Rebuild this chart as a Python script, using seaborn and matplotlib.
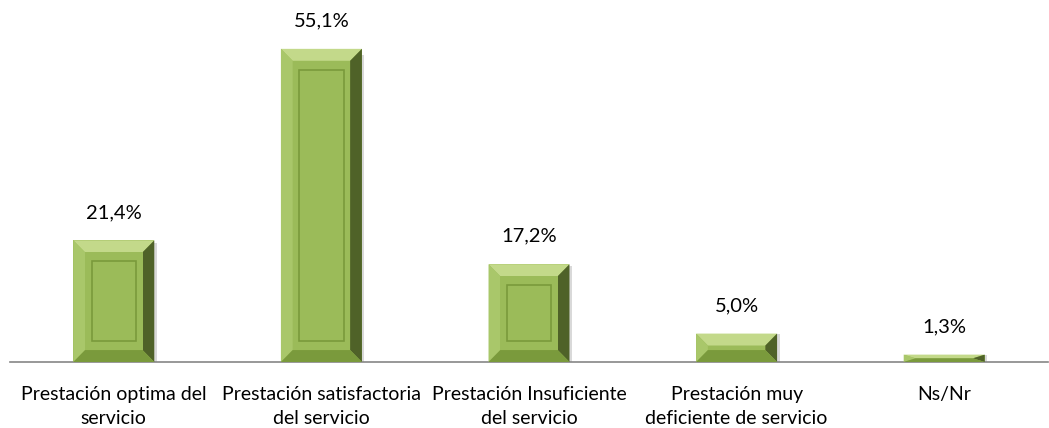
import numpy as np
import pandas as pd
import matplotlib
matplotlib.use("Agg")
import matplotlib.pyplot as plt
from matplotlib.patches import Polygon, Rectangle
import seaborn as sns

categorias = ["Prestación optima del\nservicio",
              "Prestación satisfactoria\ndel servicio",
              "Prestación Insuficiente\ndel servicio",
              "Prestación muy\ndeficiente de servicio",
              "Ns/Nr"]
valores = [21.4, 55.1, 17.2, 5.0, 1.3]
etiquetas = ["21,4%", "55,1%", "17,2%", "5,0%", "1,3%"]

sns.set_style("white")
plt.rcParams['font.family'] = ['Lato', 'DejaVu Sans']

df = pd.DataFrame({"cat": categorias, "val": valores})

fig = plt.figure(figsize=(10.49, 4.28), dpi=100)
ax = fig.add_axes([10 / 1049, 66 / 428, 1038 / 1049, 341 / 428])
sns.barplot(data=df, x="cat", y="val", color="#9bbb59", width=0.39,
            saturation=1, ax=ax, linewidth=0)
ax.set_ylim(0, 60)
ax.set_xlim(-0.5, len(categorias) - 0.5)


def bevel(ax, p):
    x0, w, h = p.get_x(), p.get_width(), p.get_height()
    x1 = x0 + w
    # bevel size in data units (about 12 px)
    bx = w * 0.145
    by = min(2.1, h / 2)
    bx = min(bx, w / 2)
    ix0, ix1, iy0, iy1 = x0 + bx, x1 - bx, by, h - by
    z = 3
    ax.add_patch(Polygon([(x0, h), (x1, h), (ix1, iy1), (ix0, iy1)],
                         closed=True, fc="#c3d98a", ec="none", zorder=z))
    ax.add_patch(Polygon([(x0, 0), (x0, h), (ix0, iy1), (ix0, iy0)],
                         closed=True, fc="#a9c76a", ec="none", zorder=z))
    ax.add_patch(Polygon([(x1, 0), (x1, h), (ix1, iy1), (ix1, iy0)],
                         closed=True, fc="#4f6228", ec="none", zorder=z))
    ax.add_patch(Polygon([(x0, 0), (x1, 0), (ix1, iy0), (ix0, iy0)],
                         closed=True, fc="#7a9a3c", ec="none", zorder=z))
    ax.add_patch(Rectangle((ix0, iy0), ix1 - ix0, max(iy1 - iy0, 0),
                           fc="#9bbb59", ec="none", zorder=z))
    # inner panel line
    if h > 10:
        px, py = w * 0.08, 1.6
        ax.add_patch(Rectangle((ix0 + px, iy0 + py), ix1 - ix0 - 2 * px,
                               iy1 - iy0 - 2 * py, fc="none",
                               ec="#7a9a3c", lw=1.2, zorder=z + 1))
    # shadow
    ax.add_patch(Rectangle((x1, 0), w * 0.03, h * 0.98, fc="#000000",
                           alpha=0.15, ec="none", zorder=z - 1))


for p, lab in zip(ax.patches[:len(valores)], etiquetas):
    bevel(ax, p)
    ax.annotate(lab, (p.get_x() + p.get_width() / 2, p.get_height()),
                xytext=(0, 14), textcoords="offset points",
                ha="center", va="bottom", fontsize=14.5, color="#000000")

sns.despine(ax=ax, left=True, top=True, right=True)
ax.spines["bottom"].set_color("#868686")
ax.spines["bottom"].set_linewidth(1.2)
ax.set_yticks([])
ax.set_xlabel("")
ax.set_ylabel("")
ax.set_xticks(range(len(categorias)))
ax.set_xticklabels([])
ax.tick_params(axis="x", which="major", length=0)
ax.set_xticks(np.arange(-0.5, len(categorias), 1.0), minor=True)
ax.tick_params(axis="x", which="minor", length=6, color="#868686", width=1.2,
               direction="out")

# category labels, each line centred on its own
for i, cat in enumerate(categorias):
    for j, linea in enumerate(cat.split("\n")):
        ax.annotate(linea, (i, 0), xycoords=("data", "axes fraction"),
                    xytext=(0, -27.5 - 16.8 * j), textcoords="offset points",
                    ha="center", va="baseline", fontsize=14, color="#000000")

fig.savefig("out.png", dpi=100)
